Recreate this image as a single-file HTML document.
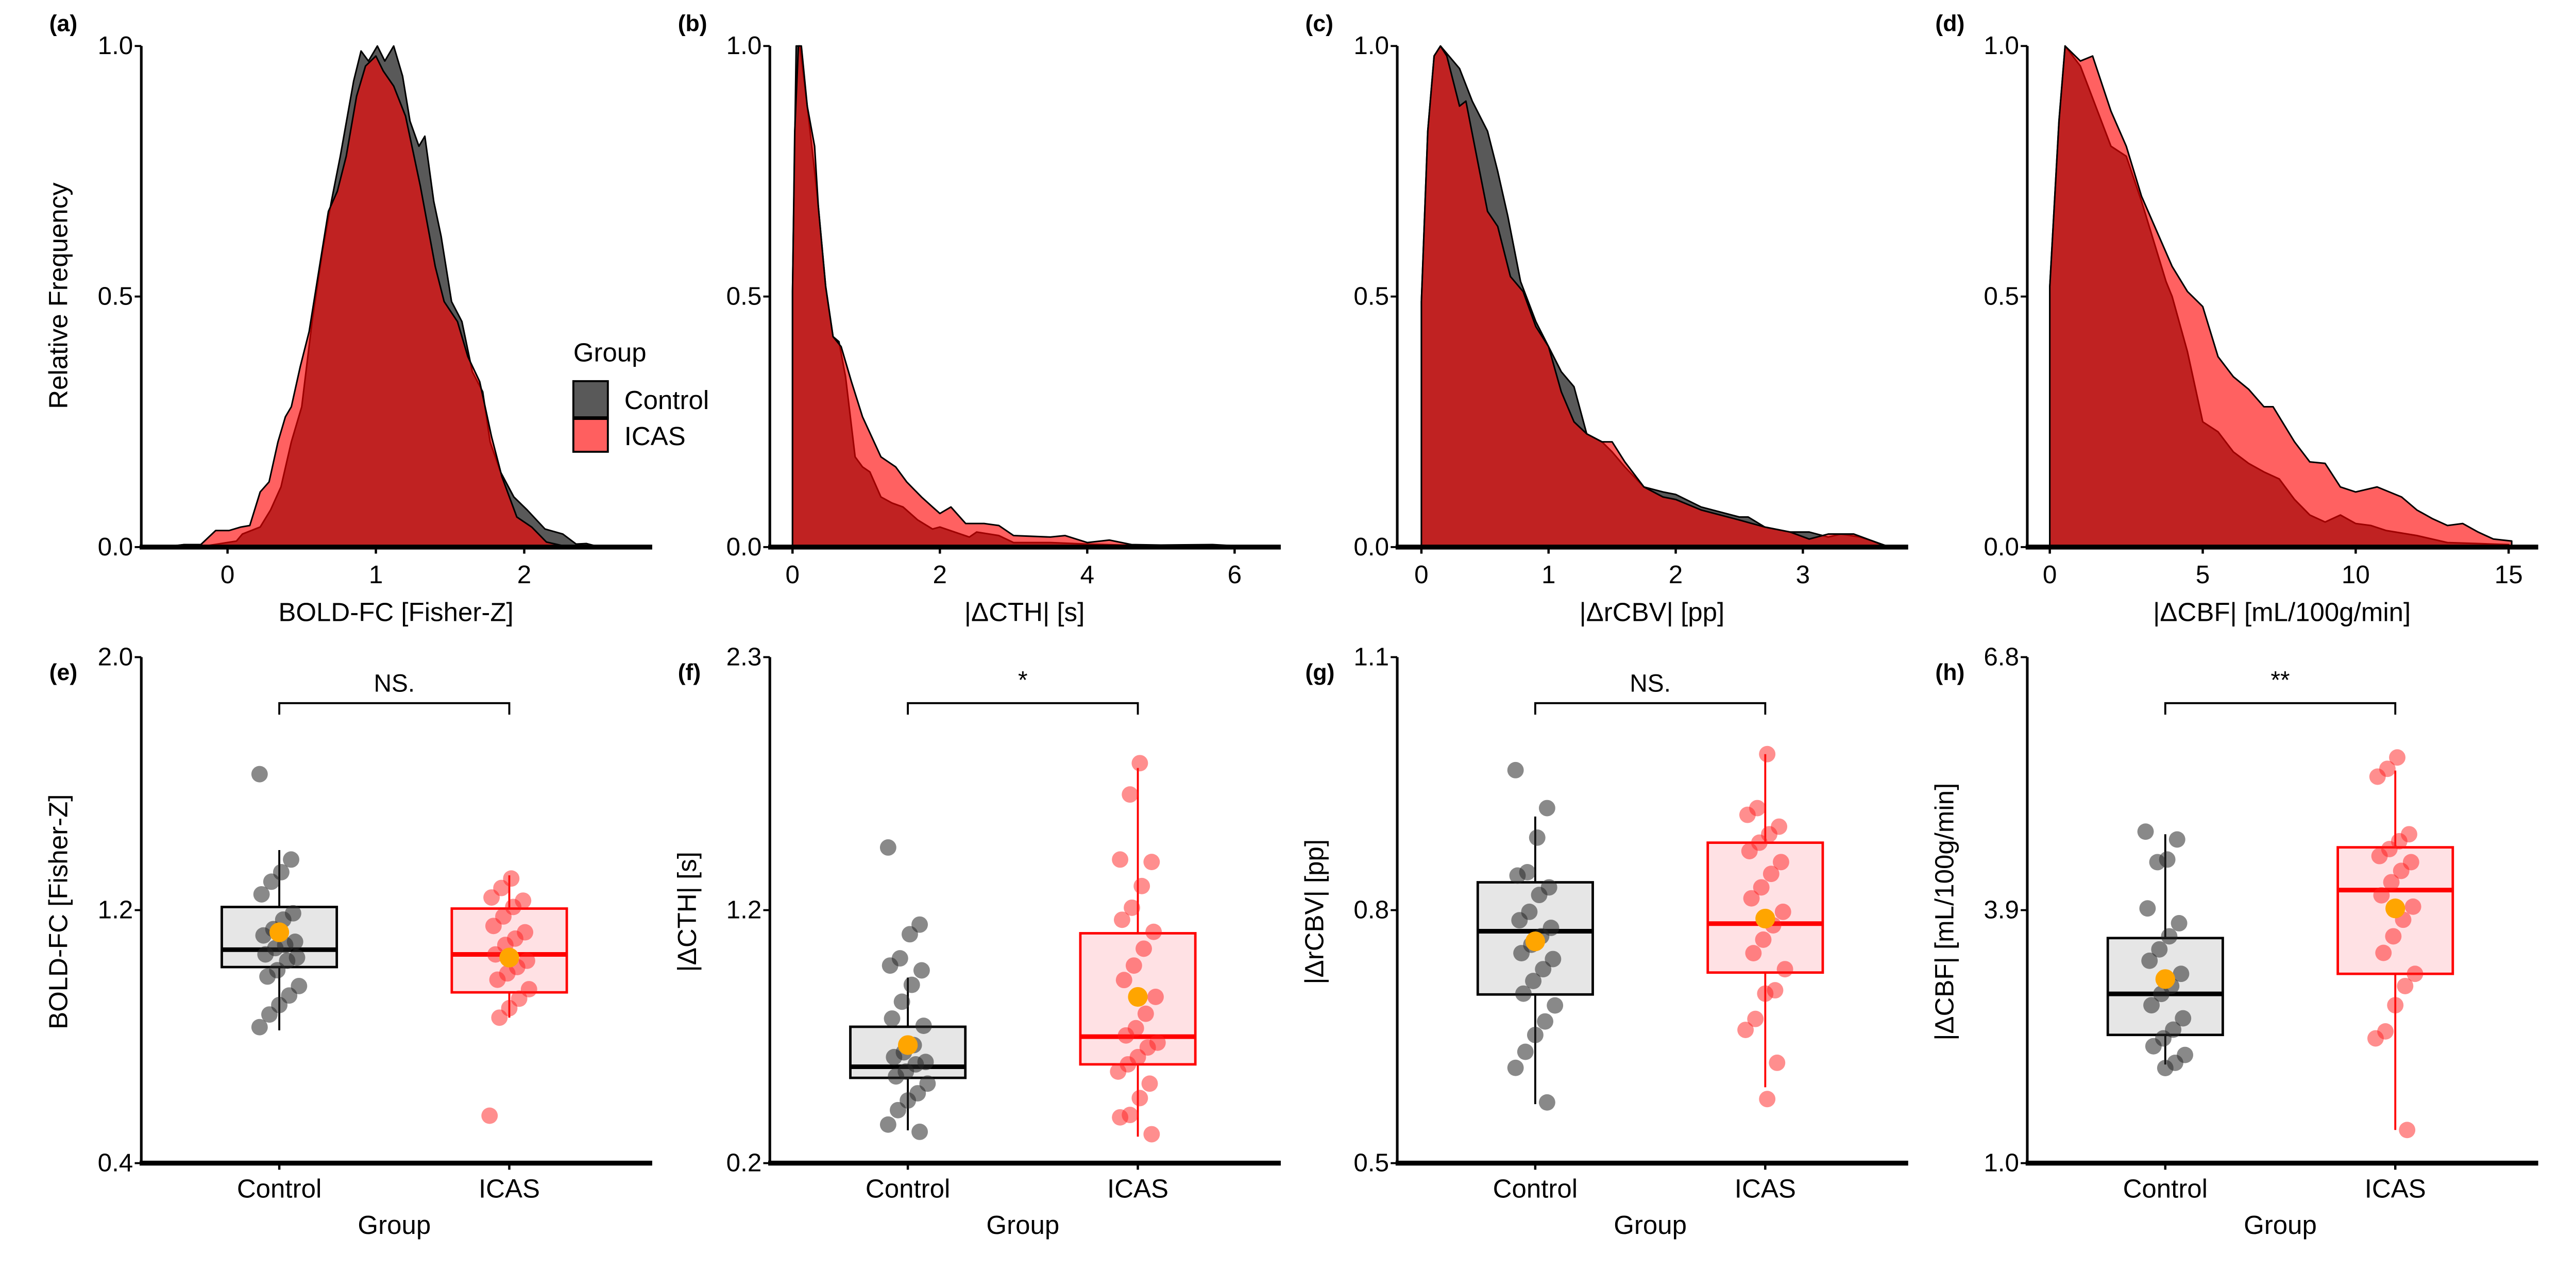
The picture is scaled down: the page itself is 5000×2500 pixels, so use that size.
<!DOCTYPE html>
<html><head><meta charset="utf-8"><style>
html,body{margin:0;padding:0;background:#fff;}
svg{display:block;font-family:"Liberation Sans",sans-serif;}
</style></head><body>
<svg id="fig" xmlns="http://www.w3.org/2000/svg" width="5000" height="2500" viewBox="0 0 1568 784"></svg>
<script>
// ---------- density data ----------
const aCX=[-0.43,-0.29,-0.13,0.06,0.1,0.22,0.29,0.36,0.43,0.5,0.57,0.64,0.70,0.76,0.85,0.90,0.95,1.01,1.06,1.12,1.18,1.23,1.29,1.33,1.39,1.44,1.51,1.58,1.65,1.72,1.77,1.84,1.93,2.02,2.14,2.26,2.35,2.42,2.51];
const aCtrl=[0,0.005,0.003,0.012,0.026,0.04,0.074,0.12,0.21,0.28,0.45,0.59,0.69,0.78,0.93,0.99,0.97,1.0,0.97,1.0,0.94,0.85,0.80,0.82,0.69,0.62,0.49,0.45,0.35,0.31,0.21,0.15,0.10,0.074,0.036,0.026,0.006,0.007,0];
const aIX=[-0.43,-0.29,-0.18,-0.08,0.01,0.09,0.15,0.22,0.28,0.34,0.39,0.43,0.49,0.55,0.62,0.68,0.74,0.80,0.87,0.93,1.0,1.05,1.12,1.2,1.3,1.4,1.46,1.55,1.62,1.7,1.78,1.85,1.95,2.05,2.15,2.3];
const aIcas=[0,0.005,0.005,0.033,0.033,0.04,0.043,0.11,0.13,0.21,0.26,0.28,0.36,0.43,0.56,0.67,0.71,0.78,0.90,0.96,0.98,0.95,0.92,0.86,0.72,0.56,0.49,0.45,0.38,0.33,0.22,0.14,0.06,0.04,0.01,0];
const bCX=[0,0.05,0.1,0.2,0.3,0.35,0.45,0.55,0.63,0.72,0.85,0.95,1.05,1.2,1.35,1.5,1.7,1.9,2.0,2.2,2.4,2.5,2.8,3.0,3.5,4,4.5,5,6,6.3];
const bCtrl=[0.51,1.0,1.0,0.88,0.75,0.68,0.52,0.42,0.41,0.34,0.18,0.16,0.15,0.10,0.088,0.08,0.054,0.036,0.04,0.03,0.02,0.03,0.023,0.009,0.009,0.006,0.004,0.004,0.002,0];
const bIX=[0,0.03,0.08,0.12,0.2,0.3,0.35,0.45,0.55,0.66,0.8,0.95,1.2,1.4,1.55,1.75,1.9,2.0,2.15,2.35,2.6,2.8,3.0,3.5,3.7,4.0,4.3,4.6,5,5.7,6.3];
const bIcas=[0.51,0.83,1.0,1.0,0.88,0.80,0.68,0.52,0.42,0.40,0.33,0.26,0.18,0.16,0.13,0.10,0.08,0.067,0.08,0.047,0.047,0.043,0.023,0.02,0.023,0.009,0.014,0.005,0.004,0.005,0];
const cCX=[0,0.05,0.1,0.15,0.3,0.4,0.52,0.6,0.68,0.78,0.9,1.0,1.1,1.2,1.3,1.42,1.5,1.6,1.75,1.9,2.0,2.2,2.5,2.57,2.7,2.9,3.05,3.2,3.3,3.45,3.55,3.65];
const cCtrl=[0.49,0.83,0.98,1.0,0.955,0.89,0.83,0.75,0.66,0.53,0.45,0.40,0.35,0.32,0.226,0.21,0.19,0.16,0.12,0.11,0.105,0.08,0.06,0.06,0.04,0.03,0.03,0.02,0.026,0.02,0.012,0.003];
const cIX=[0,0.05,0.1,0.15,0.2,0.3,0.35,0.45,0.52,0.6,0.7,0.8,0.9,1.0,1.1,1.2,1.3,1.42,1.5,1.6,1.75,1.9,2.0,2.2,2.5,2.7,2.9,3.05,3.2,3.4,3.55,3.65];
const cIcas=[0.49,0.83,0.98,1.0,0.98,0.88,0.89,0.76,0.67,0.64,0.54,0.51,0.44,0.40,0.31,0.25,0.226,0.21,0.21,0.17,0.12,0.10,0.095,0.074,0.054,0.04,0.03,0.016,0.026,0.026,0.012,0.002];
const dCX=[0,0.3,0.5,1.0,1.5,2,2.5,3,3.5,3.8,4,4.5,5,5.5,6,6.5,7,7.5,8,8.5,9,9.5,10,10.5,11,12,13,14,15];
const dCtrl=[0.52,0.85,1.0,0.96,0.88,0.80,0.78,0.69,0.59,0.53,0.50,0.39,0.25,0.23,0.19,0.167,0.15,0.136,0.095,0.064,0.05,0.064,0.047,0.043,0.033,0.023,0.009,0.007,0.005];
const dIX=[0,0.3,0.5,1.0,1.4,2,2.5,3,3.5,4,4.5,5,5.5,6,6.5,7,7.3,8,8.5,9,9.5,10,10.7,11.5,12,12.5,13,13.5,14,14.5,15.1];
const dIcas=[0.52,0.85,1.0,0.97,0.98,0.87,0.80,0.70,0.63,0.56,0.51,0.48,0.38,0.34,0.315,0.28,0.28,0.21,0.17,0.167,0.12,0.11,0.12,0.10,0.074,0.057,0.043,0.047,0.03,0.016,0.012];
const aTicks=[0,1,2], bTicks=[0,2,4,6], cTicks=[0,1,2,3], dTicks=[0,5,10,15];
const yDensTicks=[0,0.5,1.0], yDensLabels=["0.0","0.5","1.0"];
// ---------- box data ----------
const eCtrl=[1.63,1.36,1.32,1.29,1.25,1.19,1.17,1.14,1.12,1.10,1.09,1.08,1.06,1.05,1.04,1.01,0.99,0.96,0.93,0.90,0.87,0.83];
const eIcas=[1.30,1.27,1.24,1.23,1.21,1.18,1.15,1.13,1.11,1.09,1.06,1.04,1.02,1.00,0.98,0.95,0.92,0.89,0.86,0.55];
const fCtrl=[1.51,1.19,1.15,1.05,1.02,1.0,0.94,0.87,0.80,0.77,0.69,0.66,0.64,0.62,0.61,0.58,0.56,0.53,0.49,0.46,0.42,0.36,0.33];
const fIcas=[1.86,1.73,1.46,1.45,1.35,1.26,1.21,1.16,1.09,1.02,0.96,0.89,0.82,0.76,0.73,0.70,0.68,0.64,0.61,0.58,0.53,0.47,0.40,0.39,0.32];
const gCtrl=[0.966,0.921,0.886,0.845,0.841,0.827,0.818,0.798,0.788,0.779,0.769,0.759,0.749,0.742,0.730,0.716,0.701,0.687,0.668,0.652,0.632,0.613,0.572];
const gIcas=[0.985,0.921,0.913,0.899,0.890,0.880,0.870,0.857,0.843,0.827,0.814,0.798,0.782,0.765,0.749,0.730,0.705,0.701,0.671,0.658,0.619,0.576];
const hCtrl=[4.80,4.71,4.48,4.45,3.92,3.75,3.60,3.45,3.32,3.17,3.03,2.94,2.81,2.66,2.53,2.43,2.34,2.24,2.15,2.09];
const hIcas=[5.65,5.52,5.43,4.77,4.69,4.60,4.52,4.45,4.35,4.22,4.07,3.94,3.79,3.60,3.41,3.17,3.03,2.81,2.51,2.43,1.38];
// stats: [whiskerLow, q1, median, q3, whiskerHigh, mean]
const eCtrlStats=[0.82,1.02,1.075,1.21,1.39,1.13], eIcasStats=[0.86,0.94,1.06,1.205,1.31,1.05];
const fCtrlStats=[0.336,0.554,0.60,0.766,0.97,0.69], fIcasStats=[0.31,0.61,0.725,1.154,1.84,0.89];
const gCtrlStats=[0.57,0.70,0.775,0.833,0.911,0.763], gIcasStats=[0.59,0.726,0.784,0.88,0.985,0.79];
const hCtrlStats=[2.13,2.47,2.94,3.58,4.77,3.11], hIcasStats=[1.38,3.17,4.13,4.62,5.5,3.92];
const eTicks=[0.4,1.2,2.0], eLabels=["0.4","1.2","2.0"];
const fTicks=[0.2,1.25,2.3], fLabels=["0.2","1.2","2.3"];
const gTicks=[0.5,0.8,1.1], gLabels=["0.5","0.8","1.1"];
const hTicks=[1.0,3.9,6.8], hLabels=["1.0","3.9","6.8"];
const categories=["Control","ICAS"];
const sigLabels=["NS.","*","NS.","**"];

const NS="http://www.w3.org/2000/svg";
const svg=document.getElementById('fig');
function mk(tag,attrs,parent,text){const e=document.createElementNS(NS,tag);for(const k in attrs)e.setAttribute(k,attrs[k]);if(text!==undefined)e.textContent=text;(parent||svg).appendChild(e);return e;}

function densPanel(id,x0,zeroPx,unitPx,ticks,ctrlX,ctrl,icasX,icas,title,label){
  const g=mk('g',{});
  
  
  const yT=28, yB=333;
  const sx=v=>zeroPx+v*unitPx;
  const sy=v=>yB-v*(yB-yT);
  function area(xs,ys,fill,nm){
    let d='M'+sx(xs[0]).toFixed(2)+','+yB;
    xs.forEach((x,i)=>{d+=' L'+sx(x).toFixed(2)+','+sy(ys[i]).toFixed(2);});
    d+=' L'+sx(xs[xs.length-1]).toFixed(2)+','+yB+' Z';
    const p=mk('path',{d:d,fill:fill,stroke:'#000','stroke-width':0.95,'stroke-linejoin':'round'},g);
    
    
  }
  area(ctrlX,ctrl,'#595959','density-control');
  area(icasX,icas,'rgba(255,0,0,0.62)','density-icas');
  mk('line',{x1:x0,y1:yT,x2:x0,y2:yB+1,stroke:'#000','stroke-width':1.6},g);
  mk('line',{x1:x0-1,y1:yB,x2:x0+311,y2:yB,stroke:'#000','stroke-width':3},g);
  yDensTicks.forEach((t,i)=>{
    mk('line',{x1:x0-4,y1:sy(t),x2:x0,y2:sy(t),stroke:'#000','stroke-width':1.2},g);
    const tl=mk('text',{x:x0-5,y:sy(t)+5,'text-anchor':'end','font-size':15.5},g,yDensLabels[i]);
    
    
  });
  ticks.forEach(t=>{
    mk('line',{x1:sx(t),y1:yB,x2:sx(t),y2:yB+4,stroke:'#000','stroke-width':1.4},g);
    const tl=mk('text',{x:sx(t),y:yB+22,'text-anchor':'middle','font-size':15.5},g,String(t));
    
    
  });
  const xt=mk('text',{x:x0+155,y:yB+45,'text-anchor':'middle','font-size':16,'xml:space':'preserve'},g,title);
  
  
  const pl=mk('text',{x:x0-56,y:19,'font-size':14,'font-weight':'bold'},g,label);
  
  
}
densPanel('a',86,138.5,90.3,aTicks,aCX,aCtrl,aIX,aIcas,'BOLD-FC [Fisher-Z]','(a)');
densPanel('b',468.6,482.4,44.85,bTicks,bCX,bCtrl,bIX,bIcas,'|ΔCTH|  [s]','(b)');
densPanel('c',850.5,865.2,77.4,cTicks,cCX,cCtrl,cIX,cIcas,'|ΔrCBV|  [pp]','(c)');
densPanel('d',1234,1247.7,18.62,dTicks,dCX,dCtrl,dIX,dIcas,'|ΔCBF|  [mL/100g/min]','(d)');

const yl=mk('text',{x:0,y:0,'text-anchor':'middle','font-size':16,transform:'translate(41,180) rotate(-90)'},svg,'Relative Frequency');



// legend
const lg=mk('g',{});


mk('text',{x:349,y:220,'font-size':16},lg,'Group');
const k1=mk('rect',{x:349,y:232,width:21,height:22,fill:'#595959',stroke:'#000','stroke-width':1.2},lg);


const k2=mk('rect',{x:349,y:255,width:21,height:20,fill:'#ff5f5f',stroke:'#000','stroke-width':1.2},lg);


mk('text',{x:380,y:249,'font-size':16},lg,'Control');
mk('text',{x:380,y:271,'font-size':16},lg,'ICAS');

function boxPanel(id,x0,ymin,ymax,ticks,labels,ctrl,icas,cs,is,title,label,sig){
  const g=mk('g',{});
  
  
  const yT=400,yB=708;
  const sy=v=>yB-(v-ymin)/(ymax-ymin)*(yB-yT);
  const cx=[x0+84,x0+224];
  mk('line',{x1:x0,y1:yT,x2:x0,y2:yB+1,stroke:'#000','stroke-width':1.6},g);
  mk('line',{x1:x0-1,y1:yB,x2:x0+311,y2:yB,stroke:'#000','stroke-width':3},g);
  ticks.forEach((t,i)=>{
    mk('line',{x1:x0-4,y1:sy(t),x2:x0,y2:sy(t),stroke:'#000','stroke-width':1.2},g);
    const tl=mk('text',{x:x0-5,y:sy(t)+5,'text-anchor':'end','font-size':15.5},g,labels[i]);
    
    
  });
  categories.forEach((c,i)=>{
    mk('line',{x1:cx[i],y1:yB,x2:cx[i],y2:yB+4,stroke:'#000','stroke-width':1.4},g);
    const tl=mk('text',{x:cx[i],y:yB+21,'text-anchor':'middle','font-size':16},g,c);
    
    
  });
  const xt=mk('text',{x:x0+154,y:yB+43,'text-anchor':'middle','font-size':16},g,'Group');
  
  
  const yt=mk('text',{x:0,y:0,'text-anchor':'middle','font-size':16,'xml:space':'preserve',transform:'translate('+(x0-45)+',555) rotate(-90)'},g,title);
  
  
  const pl=mk('text',{x:x0-56,y:414,'font-size':14,'font-weight':'bold'},g,label);
  
  
  const sg=mk('path',{d:'M'+cx[0]+',435 V428 H'+cx[1]+' V435',fill:'none',stroke:'#000','stroke-width':1.2},g);
  
  
  mk('text',{x:(cx[0]+cx[1])/2,y:sig.length>2?421:419,'text-anchor':'middle','font-size':15},g,sig);
  const sets=[[ctrl,cs,'#000','#e6e6e6','rgba(40,40,40,0.55)','control'],[icas,is,'#ff0000','#ffe1e4','rgba(255,30,30,0.5)','icas']];
  sets.forEach((s,i)=>{
    const [pts,st,col,fill,pf,nm]=s;
    const c=cx[i];
    const w=mk('line',{x1:c,y1:sy(st[0]),x2:c,y2:sy(st[4]),stroke:col,'stroke-width':1.2},g);
    
    
    const b=mk('rect',{x:c-35,y:sy(st[3]),width:70,height:sy(st[1])-sy(st[3]),fill:fill,stroke:col,'stroke-width':1.5},g);
    
    
    const m=mk('line',{x1:c-35,y1:sy(st[2]),x2:c+35,y2:sy(st[2]),stroke:col,'stroke-width':2.8},g);
    
    
    pts.forEach((v,j)=>{
      const jit=((j*37+i*11)%21-10)*1.2;
      const p=mk('circle',{cx:c+jit,cy:sy(v),r:5,fill:pf},g);
      
      
    });
    const mn=mk('circle',{cx:c,cy:sy(st[5]),r:6,fill:'#ffa500'},g);
    
    
  });
}
boxPanel('e',86,0.4,2.0,eTicks,eLabels,eCtrl,eIcas,eCtrlStats,eIcasStats,'BOLD-FC [Fisher-Z]','(e)',sigLabels[0]);
boxPanel('f',468.6,0.2,2.3,fTicks,fLabels,fCtrl,fIcas,fCtrlStats,fIcasStats,'|ΔCTH|  [s]','(f)',sigLabels[1]);
boxPanel('g',850.5,0.5,1.1,gTicks,gLabels,gCtrl,gIcas,gCtrlStats,gIcasStats,'|ΔrCBV|  [pp]','(g)',sigLabels[2]);
boxPanel('h',1234,1.0,6.8,hTicks,hLabels,hCtrl,hIcas,hCtrlStats,hIcasStats,'|ΔCBF|  [mL/100g/min]','(h)',sigLabels[3]);
</script>
</body></html>
